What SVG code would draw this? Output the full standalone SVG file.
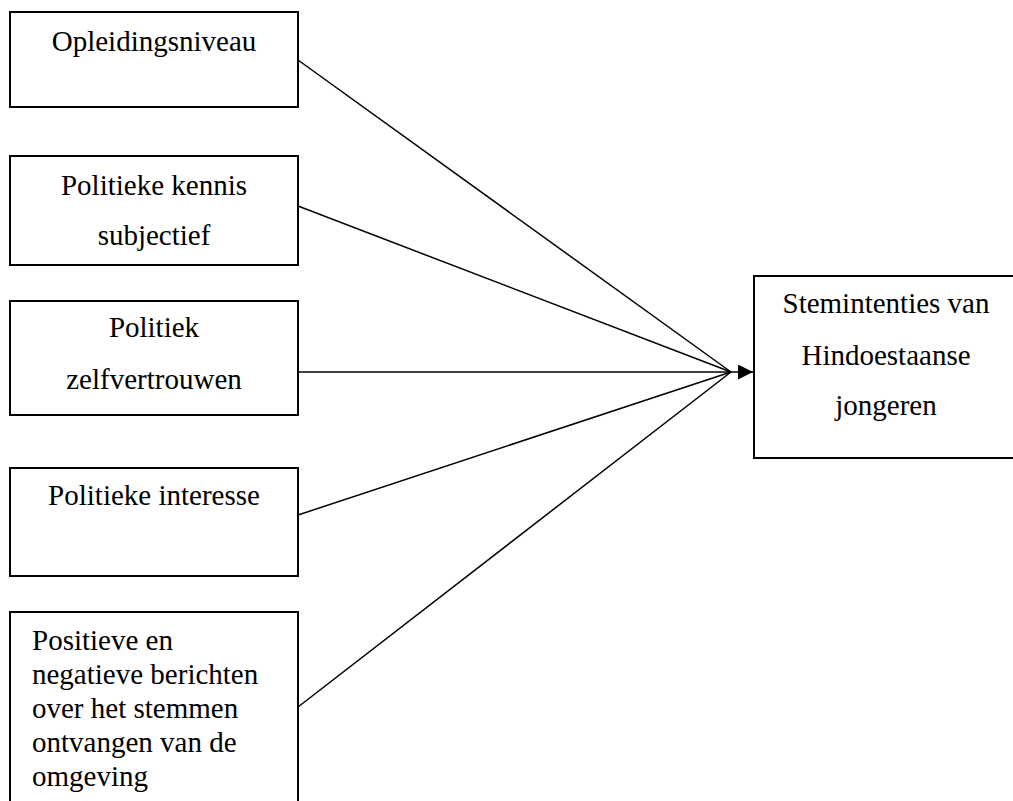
<svg xmlns="http://www.w3.org/2000/svg" width="1013" height="801" viewBox="0 0 1013 801">
<style>
.box{fill:#fff;stroke:#000;stroke-width:2}
.t{font-family:"Liberation Serif","Times New Roman",serif;font-size:29px;fill:#000}
.c{text-anchor:middle}
.ln{stroke:#000;stroke-width:1.5;fill:none}
</style>
<defs>
<marker id="ah" markerWidth="16" markerHeight="16" refX="15" refY="7.5" orient="auto" markerUnits="userSpaceOnUse">
<path d="M0,0 L15,7.5 L0,15 Z" fill="#000"/>
</marker>
</defs>
<rect width="1013" height="801" fill="#fff"/>
<g id="connectors">
<line class="ln" x1="298" y1="60" x2="731" y2="372"/>
<line class="ln" x1="298" y1="206" x2="731" y2="372"/>
<line class="ln" x1="298" y1="372" x2="731" y2="372"/>
<line class="ln" x1="298" y1="515" x2="731" y2="372"/>
<line class="ln" x1="298" y1="707" x2="731" y2="372"/>
<line class="ln" x1="731" y1="372" x2="753" y2="372" marker-end="url(#ah)"/>
</g>
<g id="n1">
<rect class="box" x="10" y="12" width="288" height="95"/>
<text class="t c" x="154" y="51">Opleidingsniveau</text>
</g>
<g id="n2">
<rect class="box" x="10" y="156" width="288" height="109"/>
<text class="t c" x="154" y="195">Politieke kennis</text>
<text class="t c" x="154" y="245">subjectief</text>
</g>
<g id="n3">
<rect class="box" x="10" y="301" width="288" height="114"/>
<text class="t c" x="154" y="337">Politiek</text>
<text class="t c" x="154" y="389">zelfvertrouwen</text>
</g>
<g id="n4">
<rect class="box" x="10" y="468" width="288" height="108"/>
<text class="t c" x="154" y="505">Politieke interesse</text>
</g>
<g id="n5">
<rect class="box" x="10" y="612" width="288" height="200"/>
<text class="t" x="32" y="650">Positieve en</text>
<text class="t" x="32" y="684">negatieve berichten</text>
<text class="t" x="32" y="718">over het stemmen</text>
<text class="t" x="32" y="752">ontvangen van de</text>
<text class="t" x="32" y="786">omgeving</text>
</g>
<g id="target">
<rect class="box" x="754" y="276" width="266" height="182"/>
<text class="t c" x="886" y="313">Stemintenties van</text>
<text class="t c" x="886" y="365">Hindoestaanse</text>
<text class="t c" x="886" y="415">jongeren</text>
</g>
</svg>
